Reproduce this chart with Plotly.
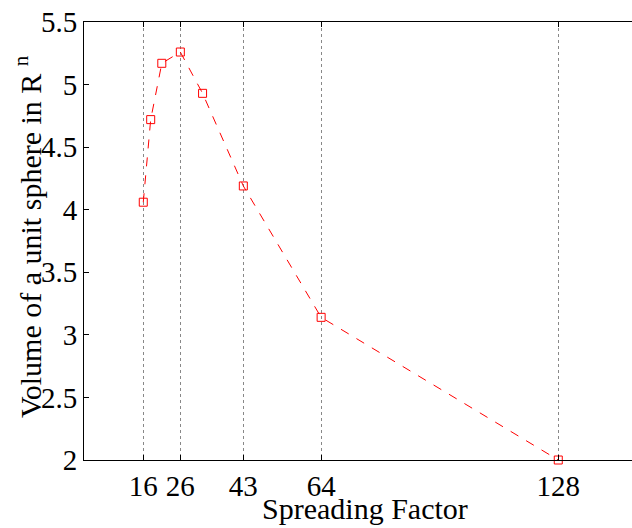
import plotly.graph_objects as go

spreading_factor = [16, 18, 21, 26, 32, 43, 64, 128]
volume = [4.06, 4.72, 5.17, 5.26, 4.93, 4.19, 3.14, 2.0]
x_ticks = [16, 26, 43, 64, 128]
y_ticks = [2, 2.5, 3, 3.5, 4, 4.5, 5, 5.5]
y_tick_labels = ["2", "2.5", "3", "3.5", "4", "4.5", "5", "5.5"]

FONT = "Liberation Serif"

fig = go.Figure()
fig.add_trace(go.Scatter(
    x=spreading_factor, y=volume, mode="lines+markers",
    line=dict(color="red", width=1, dash="dash"),
    marker=dict(symbol="square-open", size=8, color="red", line=dict(width=1, color="red")),
    cliponaxis=False, showlegend=False,
))

fig.update_layout(
    width=632, height=528,
    margin=dict(l=84, r=0, t=22, b=68),
    paper_bgcolor="white", plot_bgcolor="white",
    font=dict(family=FONT, size=29, color="black"),
    xaxis=dict(
        range=[0, 147.9], tickmode="array", tickvals=x_ticks,
        ticks="inside", ticklen=5, tickcolor="black", tickwidth=1,
        showline=True, linecolor="black", linewidth=1, mirror="ticks",
        showgrid=True, gridcolor="#888888", griddash="dot", gridwidth=1,
        zeroline=False, tickfont=dict(family=FONT, size=29),
    ),
    yaxis=dict(
        range=[2, 5.5], tickmode="array", tickvals=y_ticks, ticktext=y_tick_labels,
        ticks="inside", ticklen=5, tickcolor="black", tickwidth=1,
        showline=True, linecolor="black", linewidth=1, mirror=False,
        showgrid=False, zeroline=False, tickfont=dict(family=FONT, size=29),
    ),
    annotations=[
        dict(text="Spreading Factor", xref="paper", yref="paper", x=0.5, y=0,
             xanchor="center", yanchor="middle", yshift=-48, xshift=7, showarrow=False,
             font=dict(family=FONT, size=30)),
        dict(text="Volume of a unit sphere in R <sup>n</sup>", xref="paper", yref="paper",
             x=0, y=0.509, xanchor="center", yanchor="middle", xshift=-56, textangle=-90,
             showarrow=False, font=dict(family=FONT, size=30)),
    ],
)

fig.write_html("out.html")
